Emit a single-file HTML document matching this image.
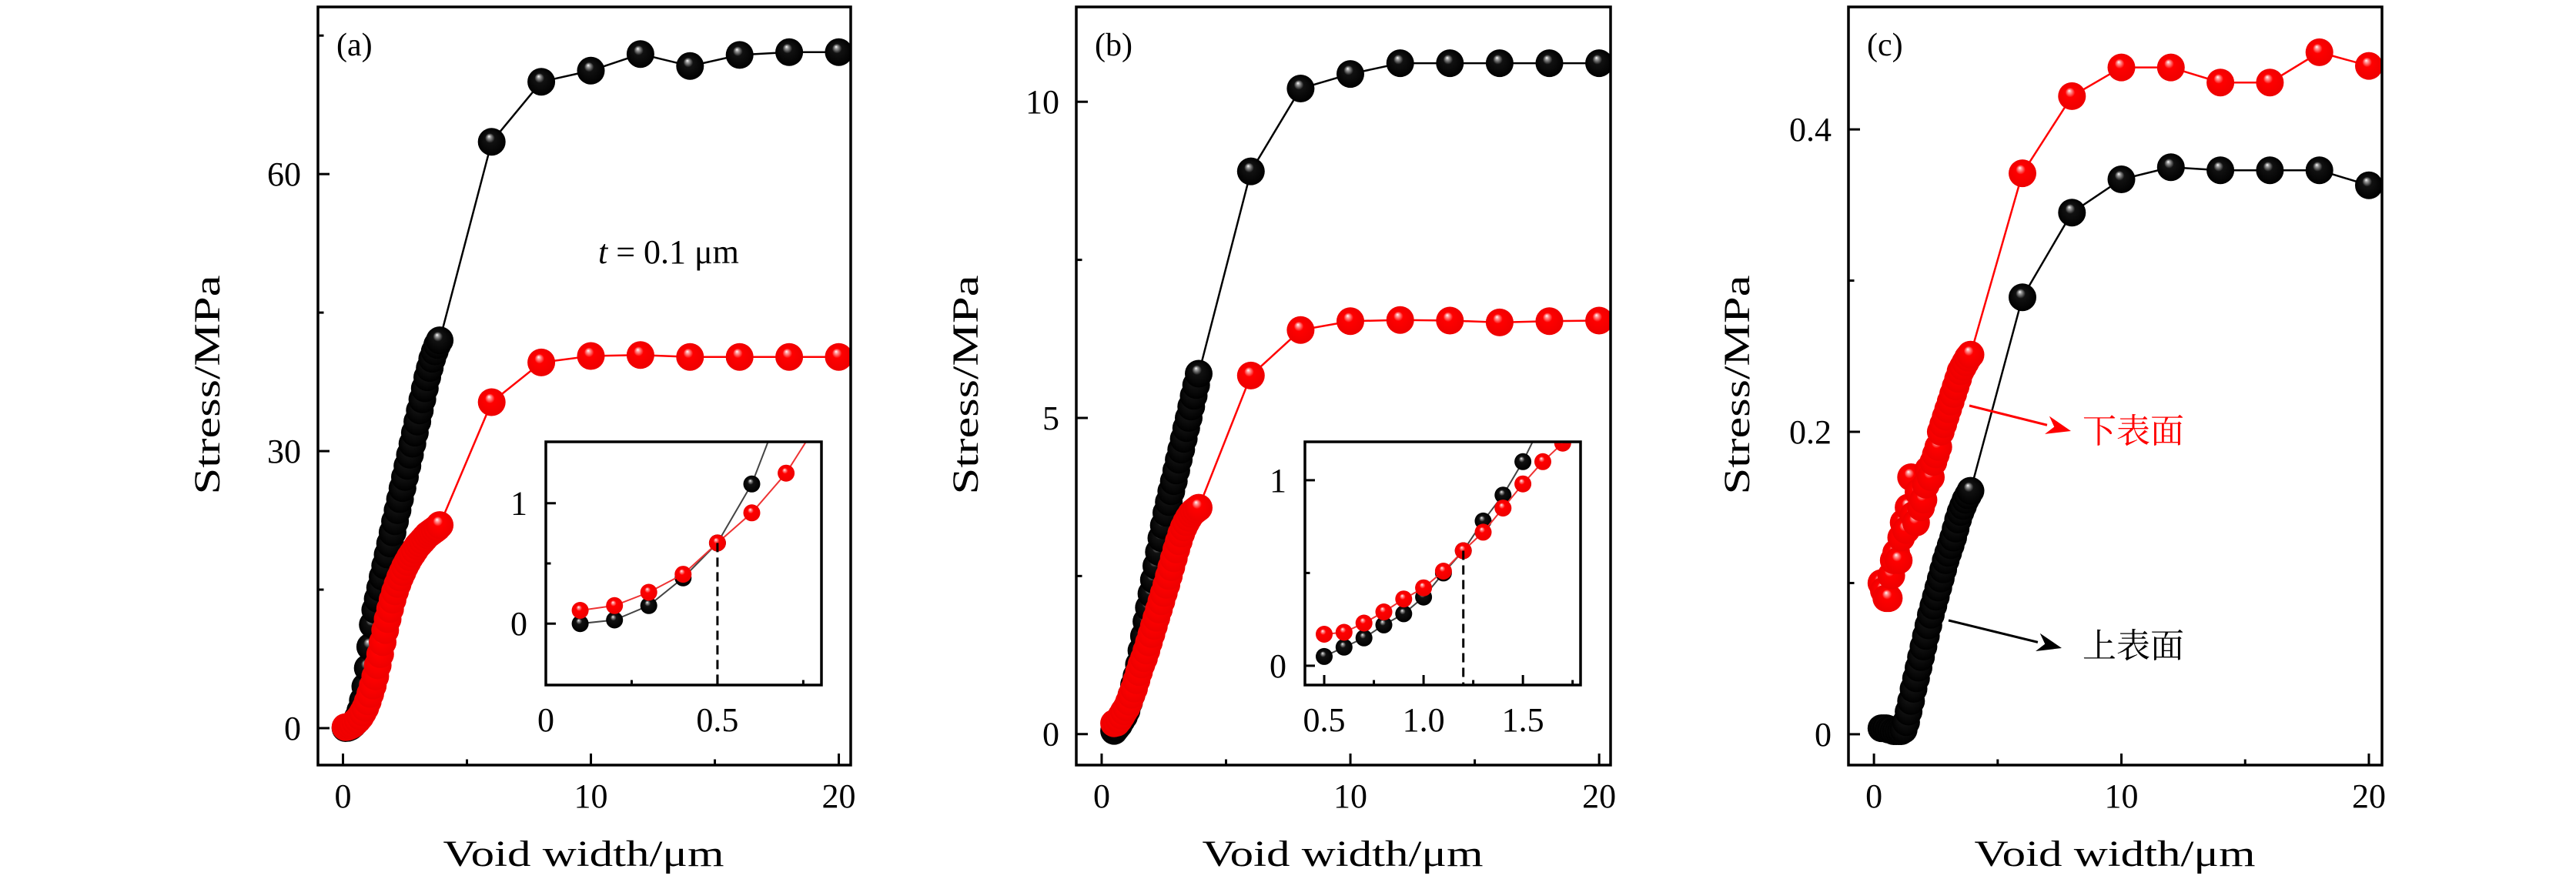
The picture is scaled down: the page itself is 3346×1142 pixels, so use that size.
<!DOCTYPE html>
<html><head><meta charset="utf-8"><style>
html,body{margin:0;padding:0;background:#fff}
svg{display:block}
text{font-family:"Liberation Serif","Noto Serif CJK SC",serif;fill:#000}
</style></head><body>
<svg id="fig" width="3346" height="1142" viewBox="0 0 3346 1142" xmlns="http://www.w3.org/2000/svg">
<defs>
<radialGradient id="gBlack" cx="0.5" cy="0.5" r="0.5" fx="0.4" fy="0.3">
<stop offset="0" stop-color="#fff"/><stop offset="0.12" stop-color="#999"/><stop offset="0.35" stop-color="#111"/><stop offset="1" stop-color="#000"/>
</radialGradient>
<radialGradient id="gRed" cx="0.5" cy="0.5" r="0.5" fx="0.4" fy="0.3">
<stop offset="0" stop-color="#fff"/><stop offset="0.12" stop-color="#ff9a9a"/><stop offset="0.35" stop-color="#f00"/><stop offset="1" stop-color="#e00"/>
</radialGradient>
<marker id="arrR" markerWidth="10" markerHeight="10" refX="9" refY="5" orient="auto" markerUnits="userSpaceOnUse"></marker>
</defs>
</svg>
<script>
// ---- data ----
const xA = [0.1,0.2,0.3,0.4,0.5,0.6,0.7,0.8,0.9,1.0,1.1,1.2,1.3,1.4,1.5,1.6,1.7,1.8,1.9,2.0,2.1,2.2,2.3,2.4,2.5,2.6,2.7,2.8,2.9,3.0,3.1,3.2,3.3,3.4,3.5,3.6,3.7,3.8,3.9,6,8,10,12,14,16,18,20];
const aTop = [0,0.03,0.15,0.38,0.67,1.16,1.9,3.0,4.5,6.5,8.8,11.2,12.8,14,15.2,16.4,17.6,18.8,20,21.2,22.4,23.6,24.8,26,27.2,28.4,29.6,30.8,32,33.2,34.4,35.6,36.8,38,39,40,40.8,41.5,42,63.5,70,71.2,73,71.7,72.9,73.2,73.2];
const aBottom = [0.11,0.15,0.26,0.41,0.67,0.92,1.25,1.7,2.2,2.9,3.7,4.6,5.6,6.8,8,9.3,10.6,11.8,12.9,13.9,14.8,15.6,16.3,16.9,17.5,18,18.5,18.9,19.3,19.7,20,20.3,20.6,20.9,21.1,21.3,21.5,21.7,22,35.3,39.6,40.3,40.4,40.2,40.2,40.2,40.2];
const xB = [0.5,0.6,0.7,0.8,0.9,1.0,1.1,1.2,1.3,1.4,1.5,1.6,1.7,1.8,1.9,2.0,2.1,2.2,2.3,2.4,2.5,2.6,2.7,2.8,2.9,3.0,3.1,3.2,3.3,3.4,3.5,3.6,3.7,3.8,3.9,6,8,10,12,14,16,18,20];
const bTop = [0.05,0.1,0.15,0.22,0.28,0.37,0.5,0.62,0.78,0.92,1.1,1.32,1.55,1.78,2.0,2.22,2.44,2.66,2.88,3.1,3.3,3.5,3.67,3.84,4.0,4.17,4.34,4.5,4.67,4.84,5.0,5.18,5.35,5.52,5.7,8.9,10.21,10.44,10.61,10.61,10.61,10.61,10.61];
const bBottom = [0.17,0.18,0.23,0.29,0.36,0.42,0.51,0.62,0.72,0.85,0.98,1.1,1.2,1.32,1.45,1.58,1.71,1.84,1.97,2.1,2.23,2.36,2.5,2.64,2.78,2.92,3.05,3.17,3.27,3.35,3.42,3.48,3.52,3.55,3.58,5.67,6.39,6.53,6.55,6.54,6.51,6.53,6.54];
const xC = [0.3,0.4,0.5,0.6,0.7,0.8,0.9,1.0,1.1,1.2,1.3,1.4,1.5,1.6,1.7,1.8,1.9,2.0,2.1,2.2,2.3,2.4,2.5,2.6,2.7,2.8,2.9,3.0,3.1,3.2,3.3,3.4,3.5,3.6,3.7,3.8,3.9,6,8,10,12,14,16,18,20];
const cTop = [0.004,0.004,0.004,0.003,0.003,0.002,0.002,0.002,0.002,0.003,0.008,0.015,0.022,0.03,0.037,0.044,0.051,0.058,0.065,0.072,0.079,0.085,0.091,0.097,0.103,0.109,0.115,0.12,0.125,0.13,0.136,0.142,0.147,0.151,0.155,0.158,0.161,0.289,0.345,0.367,0.375,0.373,0.373,0.373,0.363];
const cBottom = [0.1,0.095,0.09,0.09,0.105,0.115,0.12,0.115,0.13,0.14,0.135,0.15,0.17,0.145,0.14,0.16,0.15,0.155,0.165,0.175,0.17,0.18,0.185,0.19,0.2,0.205,0.21,0.215,0.22,0.225,0.23,0.235,0.24,0.243,0.246,0.249,0.251,0.371,0.422,0.441,0.441,0.431,0.431,0.451,0.442];
const xTicksMain = ["0","10","20"];
const yTicksA = ["0","30","60"];
const yTicksB = ["0","5","10"];
const yTicksC = ["0","0.2","0.4"];
const insetXTicksA = ["0","0.5"];
const insetXTicksB = ["0.5","1.0","1.5"];
const insetYTicks = ["0","1"];

const NS = "http://www.w3.org/2000/svg";
const svg = document.getElementById('fig');
function mk(tag, attrs, parent){
  const e = document.createElementNS(NS, tag);
  for (const k in attrs) e.setAttribute(k, attrs[k]);
  (parent||svg).appendChild(e);
  return e;
}
let clipId = 0;
function axes(box, xr, yr){
  const sx = v => box.x0 + (v - xr[0]) / (xr[1] - xr[0]) * (box.x1 - box.x0);
  const sy = v => box.y1 - (v - yr[0]) / (yr[1] - yr[0]) * (box.y1 - box.y0);
  return {sx, sy};
}
function series(g, sc, xs, ys, color, grad, r, lw, clip){
  const gg = mk('g', {'clip-path': 'url(#' + clip + ')'}, g);
  let d = '';
  xs.forEach((x, i) => { d += (i ? 'L' : 'M') + sc.sx(x).toFixed(1) + ',' + sc.sy(ys[i]).toFixed(1); });
  const p = mk('path', {d: d, fill: 'none', stroke: color, 'stroke-width': lw}, gg);
  
  
  xs.forEach((x, i) => {
    const c = mk('circle', {cx: sc.sx(x).toFixed(1), cy: sc.sy(ys[i]).toFixed(1), r: r, fill: 'url(#' + grad + ')'}, gg);
    
    
  });
}
function frame(g, box, clipName){
  const id = 'clip' + (clipId++);
  const cp = mk('clipPath', {id: id}, g);
  mk('rect', {x: box.x0, y: box.y0, width: box.x1 - box.x0, height: box.y1 - box.y0}, cp);
  return id;
}
function ticks(g, sc, box, xt, xm, yt, ym, fs, labOffX, labOffY, len){
  xt.forEach(t => {
    const v = parseFloat(t), x = sc.sx(v);
    mk('line', {x1: x, x2: x, y1: box.y1, y2: box.y1 - len, stroke: '#000', 'stroke-width': 3}, g);
    const tx = mk('text', {x: x, y: box.y1 + labOffY, 'font-size': fs, 'text-anchor': 'middle'}, g);
    tx.textContent = t;
    
    
  });
  xm.forEach(v => { const x = sc.sx(v); mk('line', {x1: x, x2: x, y1: box.y1, y2: box.y1 - len / 2, stroke: '#000', 'stroke-width': 3}, g); });
  yt.forEach(t => {
    const v = parseFloat(t), y = sc.sy(v);
    mk('line', {x1: box.x0, x2: box.x0 + len, y1: y, y2: y, stroke: '#000', 'stroke-width': 3}, g);
    const ty = mk('text', {x: box.x0 - labOffX, y: y + fs * 0.34, 'font-size': fs, 'text-anchor': 'end'}, g);
    ty.textContent = t;
    
    
  });
  ym.forEach(v => { const y = sc.sy(v); mk('line', {x1: box.x0, x2: box.x0 + len / 2, y1: y, y2: y, stroke: '#000', 'stroke-width': 3}, g); });
  const fr = mk('rect', {x: box.x0, y: box.y0, width: box.x1 - box.x0, height: box.y1 - box.y0, fill: 'none', stroke: '#000', 'stroke-width': 3.5}, g);
  
  
}
function panel(o){
  const g = mk('g', {});
  
  
  const sc = axes(o.box, o.xr, o.yr);
  const clip = frame(g, o.box);
  series(g, sc, o.xs, o.top, '#000', 'gBlack', 18, 2.5, clip);
  series(g, sc, o.xs, o.bot, '#f00', 'gRed', 18, 2.5, clip);
  ticks(g, sc, o.box, xTicksMain, [5, 15], o.yt, o.ym, 44, 22, 55, 15);
  const lt = mk('text', {x: o.box.x0 + 24, y: 72, 'font-size': 42}, g);
  lt.textContent = '(' + o.letter + ')';
  
  
  const xt = mk('text', {x: o.titleX, y: 1125, 'font-size': 48, 'text-anchor': 'middle', textLength: 365, lengthAdjust: 'spacingAndGlyphs'}, g);
  xt.textContent = 'Void width/μm';
  
  
  const yt = mk('text', {x: 0, y: 0, 'font-size': 48, 'text-anchor': 'middle', textLength: 285, lengthAdjust: 'spacingAndGlyphs', transform: 'translate(' + o.ylabX + ',500) rotate(-90)'}, g);
  yt.textContent = 'Stress/MPa';
  
  
  if (o.inset) {
    const ib = o.inset;
    const ig = mk('g', {}, g);
    
    
    mk('rect', {x: ib.box.x0, y: ib.box.y0, width: ib.box.x1 - ib.box.x0, height: ib.box.y1 - ib.box.y0, fill: '#fff'}, ig);
    const isc = axes(ib.box, ib.xr, ib.yr);
    const icl = frame(ig, ib.box);
    series(ig, isc, o.xs, o.top, '#444', 'gBlack', 11, 2, icl);
    series(ig, isc, o.xs, o.bot, '#e33', 'gRed', 11, 2, icl);
    const dl = mk('line', {x1: isc.sx(ib.dash[0]), x2: isc.sx(ib.dash[0]), y1: isc.sy(ib.dash[1]), y2: ib.box.y1, stroke: '#000', 'stroke-width': 3, 'stroke-dasharray': '12,7'}, ig);
    
    
    ticks(ig, isc, ib.box, ib.xt, ib.xm, insetYTicks, [0.5], 44, 24, 60, 13);
  }
}
panel({letter: 'a', box: {x0: 413, x1: 1105, y0: 9, y1: 994}, xr: [-1.01, 20.48], yr: [-4, 78.1],
  xs: xA, top: aTop, bot: aBottom, yt: yTicksA, ym: [15, 45, 75], titleX: 758, ylabX: 285,
  inset: {box: {x0: 709, x1: 1067, y0: 574, y1: 890}, xr: [0, 0.803], yr: [-0.51, 1.51], xt: insetXTicksA, xm: [0.25, 0.75], dash: [0.5, 0.67]}});
panel({letter: 'b', box: {x0: 1398, x1: 2092, y0: 9, y1: 994}, xr: [-1.02, 20.46], yr: [-0.49, 11.5],
  xs: xB, top: bTop, bot: bBottom, yt: yTicksB, ym: [2.5, 7.5], titleX: 1744, ylabX: 1270,
  inset: {box: {x0: 1695, x1: 2053, y0: 574, y1: 890}, xr: [0.403, 1.79], yr: [-0.104, 1.207], xt: insetXTicksB, xm: [0.75, 1.25, 1.75], dash: [1.2, 0.62]}});
panel({letter: 'c', box: {x0: 2401, x1: 3094, y0: 9, y1: 994}, xr: [-1.03, 20.53], yr: [-0.0204, 0.481],
  xs: xC, top: cTop, bot: cBottom, yt: yTicksC, ym: [0.1, 0.3], titleX: 2747, ylabX: 2272});

// annotations
const tl = mk('text', {x: 777, y: 342, 'font-size': 44});
tl.innerHTML = '<tspan font-style="italic">t</tspan> = 0.1 μm';


function arrow(x1, y1, x2, y2, color, name){
  const g = mk('g', {});
  
  
  const ang = Math.atan2(y2 - y1, x2 - x1), L = 32, W = 12;
  const bx = x2 - L * Math.cos(ang), by = y2 - L * Math.sin(ang);
  mk('line', {x1: x1, y1: y1, x2: bx, y2: by, stroke: color, 'stroke-width': 3}, g);
  const px = -Math.sin(ang) * W, py = Math.cos(ang) * W;
  const nx = x2 - L * 0.7 * Math.cos(ang), ny = y2 - L * 0.7 * Math.sin(ang);
  mk('path', {d: 'M' + x2 + ',' + y2 + 'L' + (bx + px) + ',' + (by + py) + 'L' + nx + ',' + ny + 'L' + (bx - px) + ',' + (by - py) + 'Z', fill: color}, g);
}
arrow(2558, 527, 2690, 560, '#f00', 'bottom-surface-arrow');
arrow(2531, 806, 2678, 842, '#000', 'top-surface-arrow');
const l1 = mk('text', {x: 2705, y: 575, 'font-size': 44, fill: '#f00', style: 'fill:#f00;font-family:\"Noto Serif CJK SC\",\"Noto Sans CJK SC\",serif'});
l1.textContent = '下表面';


const l2 = mk('text', {x: 2705, y: 854, 'font-size': 44, style: 'font-family:\"Noto Serif CJK SC\",\"Noto Sans CJK SC\",serif'});
l2.textContent = '上表面';


</script>
</body></html>
